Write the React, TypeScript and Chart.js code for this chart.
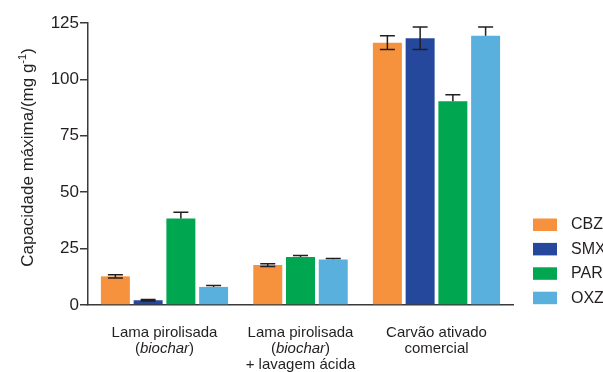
import React, { useEffect, useRef } from "react";
import { Chart, registerables } from "chart.js";

Chart.register(...registerables);

// ---- data ----
const categoryLines: string[][] = [
  ["Lama pirolisada", "(*biochar*)"],
  ["Lama pirolisada", "(*biochar*)", "+ lavagem ácida"],
  ["Carvão ativado", "comercial"],
];
const seriesNames = ["CBZ", "SMX", "PAR", "OXZ"];
const seriesColors = ["#F6923D", "#25479C", "#00A650", "#5AB0DC"];
const cbzValues = [12.7, 17.7, 116.3];
const smxValues: (number | null)[] = [2.1, null, 118.2];
const parValues = [38.3, 21.3, 90.3];
const oxzValues = [8.0, 20.2, 119.4];
const cbzErrors = [0.7, 0.6, 3.0];
const smxErrors: (number | null)[] = [0.3, null, 5.0];
const parErrors = [2.8, 0.6, 2.9];
const oxzErrors = [0.6, 0.4, 3.8];
const lowerCapShown = [true, true, false, false];
const yTicks = [0, 25, 50, 75, 100, 125];
const yTitleMain = "Capacidade máxima/(mg g";
const yTitleSup = "-1";
const yTitleEnd = ")";

const FONT = "'Liberation Sans', Arial, Helvetica, sans-serif";
const INK = "#231F20";
const AXIS = "#3A3A3A";
const CAT_PCT = 0.963;
const BAR_PCT = 0.885;

const allValues = [cbzValues, smxValues, parValues, oxzValues];
const allErrors = [cbzErrors, smxErrors, parErrors, oxzErrors];

const recenterPlugin = {
  id: "recenter",
  afterDatasetsUpdate(chart: any) {
    const xs = chart.scales.x;
    const n = chart.data.datasets.length;
    const chunk = ((xs.getPixelForValue(1) - xs.getPixelForValue(0)) * CAT_PCT) / n;
    categoryLines.forEach((_, i) => {
      const present: number[] = [];
      for (let d = 0; d < n; d++) if (allValues[d][i] != null) present.push(d);
      if (present.length === n) return;
      const center = xs.getPixelForValue(i);
      present.forEach((d, k) => {
        const el = chart.getDatasetMeta(d).data[i];
        if (el) el.x = center + (k - (present.length - 1) / 2) * chunk;
      });
    });
  },
};

const decorPlugin = {
  id: "decor",
  afterDatasetsDraw(chart: any) {
    const ctx = chart.ctx;
    const ys = chart.scales.y;
    ctx.save();
    ctx.strokeStyle = INK;
    ctx.lineWidth = 1.5;
    allValues.forEach((vals, d) => {
      const meta = chart.getDatasetMeta(d);
      vals.forEach((v, i) => {
        const e = allErrors[d][i];
        if (v == null || e == null) return;
        const el = meta.data[i];
        const x = el.x;
        const yTop = ys.getPixelForValue(v + e);
        const yBot = lowerCapShown[d] ? ys.getPixelForValue(v - e) : ys.getPixelForValue(v);
        const half = 7.5;
        ctx.beginPath();
        ctx.moveTo(x, yBot);
        ctx.lineTo(x, yTop);
        ctx.moveTo(x - half, yTop);
        ctx.lineTo(x + half, yTop);
        if (lowerCapShown[d]) {
          ctx.moveTo(x - half, yBot);
          ctx.lineTo(x + half, yBot);
        }
        ctx.stroke();
      });
    });
    ctx.restore();
  },
  afterDraw(chart: any) {
    const ctx = chart.ctx;
    const xs = chart.scales.x;
    ctx.save();
    ctx.fillStyle = INK;
    // category labels
    const size = 15;
    categoryLines.forEach((lines, i) => {
      const cx = xs.getPixelForValue(i);
      lines.forEach((line, li) => {
        const parts = line.split("*");
        let total = 0;
        const widths = parts.map((p, pi) => {
          ctx.font = `${pi % 2 === 1 ? "italic " : ""}${size}px ${FONT}`;
          const w = ctx.measureText(p).width;
          total += w;
          return w;
        });
        let x = cx - total / 2;
        const y = 337 + li * 16;
        ctx.textBaseline = "alphabetic";
        ctx.textAlign = "left";
        parts.forEach((p, pi) => {
          ctx.font = `${pi % 2 === 1 ? "italic " : ""}${size}px ${FONT}`;
          ctx.fillText(p, x, y);
          x += widths[pi];
        });
      });
    });
    // y title
    const tSize = 17;
    const sSize = 11;
    ctx.font = `${tSize}px ${FONT}`;
    const w1 = ctx.measureText(yTitleMain).width;
    const w3 = ctx.measureText(yTitleEnd).width;
    ctx.font = `${sSize}px ${FONT}`;
    const w2 = ctx.measureText(yTitleSup).width;
    const tw = w1 + w2 + w3;
    ctx.translate(33, 157.5);
    ctx.rotate(-Math.PI / 2);
    ctx.textAlign = "left";
    ctx.textBaseline = "alphabetic";
    let tx = -tw / 2;
    ctx.font = `${tSize}px ${FONT}`;
    ctx.fillText(yTitleMain, tx, 0);
    tx += w1;
    ctx.font = `${sSize}px ${FONT}`;
    ctx.fillText(yTitleSup, tx, -7);
    tx += w2;
    ctx.font = `${tSize}px ${FONT}`;
    ctx.fillText(yTitleEnd, tx, 0);
    ctx.setTransform(1, 0, 0, 1, 0, 0);
    // legend
    ctx.font = `16px ${FONT}`;
    ctx.textBaseline = "middle";
    ctx.textAlign = "left";
    chart.data.datasets.forEach((ds: any, d: number) => {
      const cy = 224.5 + d * 24.4;
      ctx.fillStyle = ds.backgroundColor;
      ctx.fillRect(533, cy - 6, 24, 12.5);
      ctx.fillStyle = INK;
      ctx.fillText(ds.label, 571, cy + 0.5);
    });
    ctx.restore();
  },
};

export default function App() {
  const canvasRef = useRef<HTMLCanvasElement | null>(null);

  useEffect(() => {
    document.body.style.margin = "0";
    const canvas = canvasRef.current;
    if (!canvas) return;
    const datasets = seriesNames.map((name, d) => ({
      label: name,
      data: allValues[d].map((v, i) => ({ x: i, y: v })),
      backgroundColor: seriesColors[d],
      borderWidth: 0,
      categoryPercentage: CAT_PCT,
      barPercentage: BAR_PCT,
    }));
    const chart = new Chart(canvas, {
      type: "bar",
      data: { datasets },
      plugins: [recenterPlugin, decorPlugin],
      options: {
        animation: false,
        responsive: false,
        devicePixelRatio: 1,
        layout: { padding: { top: 23, right: 90, bottom: 0, left: 0 } },
        plugins: { legend: { display: false }, tooltip: { enabled: false } },
        scales: {
          x: {
            type: "linear",
            offset: false,
            min: -0.5625,
            max: 2.5625,
            afterBuildTicks: (s: any) => {
              s.ticks = categoryLines.map((_, i) => ({ value: i }));
            },
            ticks: { display: false },
            grid: { display: false, drawTicks: false, offset: false },
            border: { display: true, color: AXIS, width: 1.5 },
            afterFit: (s: any) => {
              s.height = 372 - 305;
            },
          },
          y: {
            min: 0,
            max: 125,
            afterBuildTicks: (s: any) => {
              s.ticks = yTicks.map((v) => ({ value: v }));
            },
            ticks: {
              color: INK,
              padding: 1,
              font: { size: 17, family: FONT },
            },
            grid: {
              display: true,
              drawOnChartArea: false,
              drawTicks: true,
              tickLength: 8,
              color: AXIS,
              lineWidth: 1.5,
            },
            border: { display: true, color: AXIS, width: 1.5 },
            afterFit: (s: any) => {
              s.width = 88;
            },
          },
        },
      } as any,
    });
    return () => chart.destroy();
  }, []);

  return (
    <div style={{ width: 603, height: 372, position: "relative", overflow: "hidden" }}>
      <canvas ref={canvasRef} width={603} height={372} style={{ display: "block" }} />
    </div>
  );
}
